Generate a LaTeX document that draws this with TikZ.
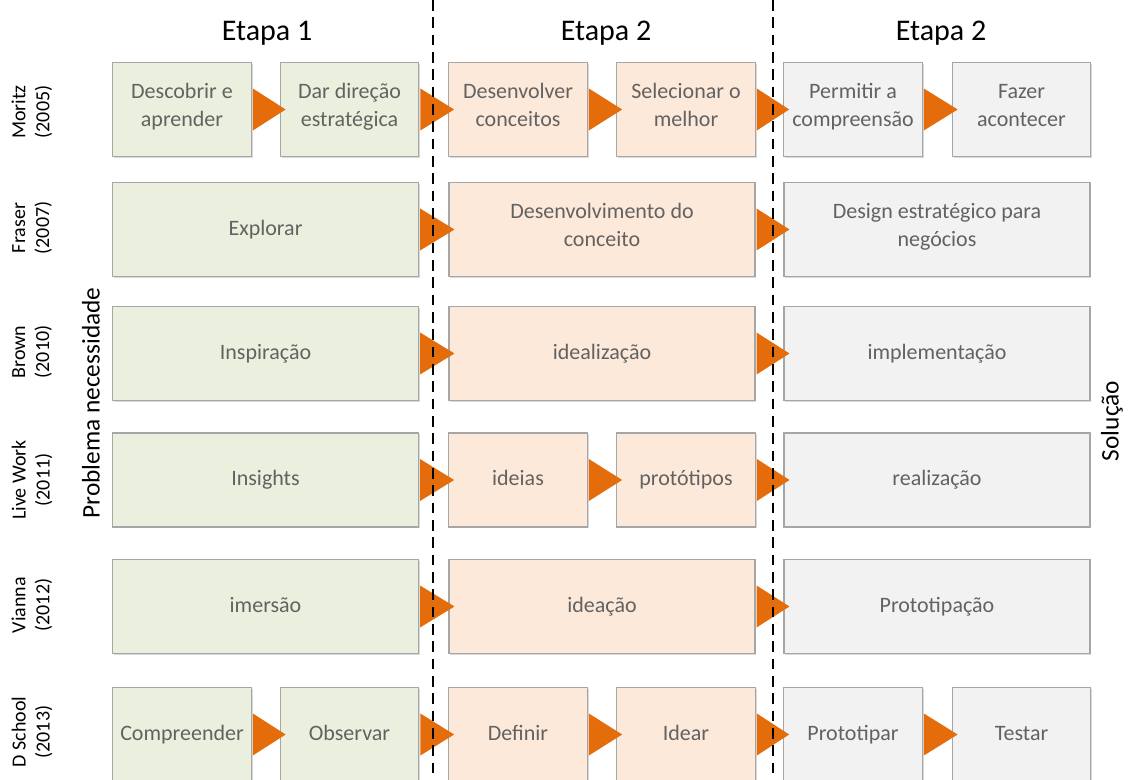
\documentclass[tikz,border=0pt]{standalone}
\usepackage{fontspec}
\setmainfont{Carlito}
\usetikzlibrary{calc,shadows}

\definecolor{verdefase}{RGB}{235,240,222}
\definecolor{pessegofase}{RGB}{253,233,218}
\definecolor{cinzafase}{RGB}{242,242,242}
\definecolor{laranjaseta}{RGB}{228,108,10}
\definecolor{textocaixa}{RGB}{98,98,98}

\tikzset{
	caixa/.style={draw=gray!70, line width=0.8pt, text=textocaixa, align=center,
		font=\fontsize{16.5}{21}\selectfont, minimum height=70.5pt, inner sep=0pt,
		execute at begin node=\strut, execute at end node=\strut,
		drop shadow={shadow xshift=1pt, shadow yshift=-1pt, opacity=0.3, fill=gray}},
	estreita/.style={minimum width=104pt},
	larga/.style={minimum width=229.5pt},
	verde/.style={fill=verdefase},
	pessego/.style={fill=pessegofase},
	cinza/.style={fill=cinzafase},
	titulo/.style={font=\fontsize{22.5}{27}\selectfont},
	autor/.style={rotate=90, align=center, font=\fontsize{15}{18}\selectfont},
	lado/.style={rotate=90, font=\fontsize{19}{23}\selectfont},
	divisoria/.style={dash pattern=on 8pt off 5pt, line width=2.2pt},
}

\newcommand{\seta}[2]{\fill[laranjaseta] ($(#1.east)+(1,-21)$) -- ($(#2.west)+(6,0)$) -- ($(#1.east)+(1,21)$) -- cycle;}

\begin{document}
\begin{tikzpicture}[x=0.75pt,y=-0.75pt]
	\useasboundingbox (0,0) rectangle (1128,780);
	
	\node[titulo] (etapaA) at (267,33) {Etapa 1};
	\node[titulo] (etapaB) at (606,33) {Etapa 2};
	\node[titulo] (etapaC) at (941,33) {Etapa 2};
	\node[lado] (problema) at (91,403) {Problema necessidade};
	\node[lado] (solucao) at (1112,421) {Solução};
	
	\node[autor] (moritz) at (32,112) {Moritz\\(2005)};
	\node[caixa,verde,estreita] (mo1) at (182,109.5) {Descobrir e\\aprender};
	\node[caixa,verde,estreita] (mo2) at (349.5,109.5) {Dar direção\\estratégica};
	\node[caixa,pessego,estreita] (mo3) at (518,109.5) {Desenvolver\\conceitos};
	\node[caixa,pessego,estreita] (mo4) at (686,109.5) {Selecionar o\\melhor};
	\node[caixa,cinza,estreita] (mo5) at (853,109.5) {Permitir a\\compreensão};
	\node[caixa,cinza,estreita] (mo6) at (1021.5,109.5) {Fazer\\acontecer};
	\seta{mo1}{mo2} \seta{mo2}{mo3} \seta{mo3}{mo4} \seta{mo4}{mo5} \seta{mo5}{mo6}
	
	\node[autor] (fraser) at (32,228) {Fraser\\(2007)};
	\node[caixa,verde,larga] (fr1) at (265.5,229.5) {Explorar};
	\node[caixa,pessego,larga] (fr2) at (602,229.5) {Desenvolvimento do\\conceito};
	\node[caixa,cinza,larga] (fr3) at (937,229.5) {Design estratégico para\\negócios};
	\seta{fr1}{fr2} \seta{fr2}{fr3}
	
	\node[autor] (brown) at (32,352) {Brown\\(2010)};
	\node[caixa,verde,larga] (br1) at (265.5,353.5) {Inspiração};
	\node[caixa,pessego,larga] (br2) at (602,353.5) {idealização};
	\node[caixa,cinza,larga] (br3) at (937,353.5) {implementação};
	\seta{br1}{br2} \seta{br2}{br3}
	
	\node[autor] (livework) at (32,480) {Live Work\\(2011)};
	\node[caixa,verde,larga] (lw1) at (265.5,480) {Insights};
	\node[caixa,pessego,estreita] (lw2) at (518,480) {ideias};
	\node[caixa,pessego,estreita] (lw3) at (686,480) {protótipos};
	\node[caixa,cinza,larga] (lw4) at (937,480) {realização};
	\seta{lw1}{lw2} \seta{lw2}{lw3} \seta{lw3}{lw4}
	
	\node[autor] (vianna) at (32,605) {Vianna\\(2012)};
	\node[caixa,verde,larga] (vi1) at (265.5,606.5) {imersão};
	\node[caixa,pessego,larga] (vi2) at (602,606.5) {ideação};
	\node[caixa,cinza,larga] (vi3) at (937,606.5) {Prototipação};
	\seta{vi1}{vi2} \seta{vi2}{vi3}
	
	\node[autor] (dschool) at (32,732) {D School\\(2013)};
	\node[caixa,verde,estreita] (ds1) at (182,734.5) {Compreender};
	\node[caixa,verde,estreita] (ds2) at (349.5,734.5) {Observar};
	\node[caixa,pessego,estreita] (ds3) at (518,734.5) {Definir};
	\node[caixa,pessego,estreita] (ds4) at (686,734.5) {Idear};
	\node[caixa,cinza,estreita] (ds5) at (853,734.5) {Prototipar};
	\node[caixa,cinza,estreita] (ds6) at (1021.5,734.5) {Testar};
	\seta{ds1}{ds2} \seta{ds2}{ds3} \seta{ds3}{ds4} \seta{ds4}{ds5} \seta{ds5}{ds6}
	
	\draw[divisoria] (433,0) -- (433,780);
	\draw[divisoria] (773,0) -- (773,780);
\end{tikzpicture}
\end{document}
